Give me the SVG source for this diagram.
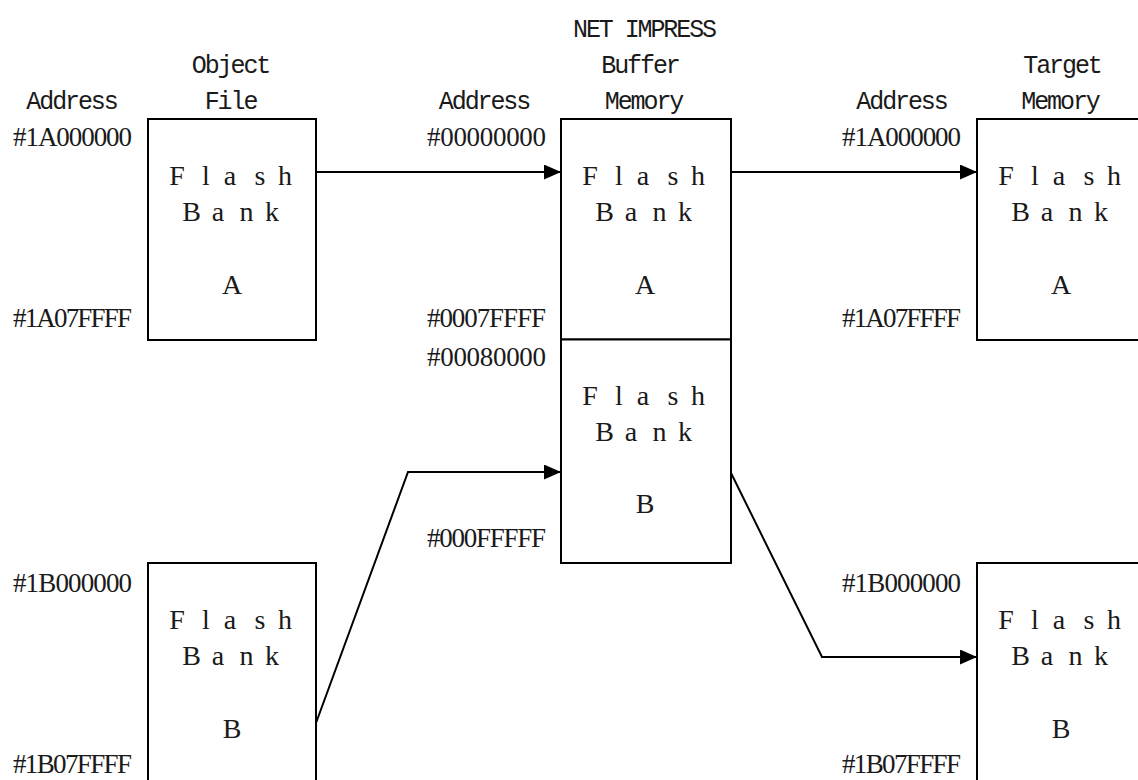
<svg xmlns="http://www.w3.org/2000/svg" width="1138" height="780" viewBox="0 0 1138 780">
<defs>
<style>
.box{fill:#fff;stroke:#000;stroke-width:2}
.hdr{font-family:"Liberation Mono",monospace;font-size:25px;letter-spacing:-2.1px;text-anchor:middle;fill:#1a1a1a}
.hex{font-family:"Liberation Serif",serif;font-size:27px;text-anchor:end;fill:#1a1a1a}
.fl{font-family:"Liberation Serif",serif;font-size:28px;text-anchor:middle;fill:#1a1a1a}
.con{fill:none;stroke:#000;stroke-width:2}
</style>
<marker id="arr" markerWidth="17" markerHeight="15" refX="17" refY="7.5" orient="auto" markerUnits="userSpaceOnUse">
<path d="M0,0 L17,7.5 L0,15 z" fill="#000"/>
</marker>
</defs>
<rect width="1138" height="780" fill="#fff"/>
<g id="headers">
<text class="hdr" x="71.5" y="109">Address</text>
<text class="hdr" x="230.5" y="73">Object</text>
<text class="hdr" x="230.5" y="109">File</text>
<text class="hdr" x="484" y="109">Address</text>
<text class="hdr" x="644" y="37">NET IMPRESS</text>
<text class="hdr" x="640" y="73">Buffer</text>
<text class="hdr" x="643.5" y="109">Memory</text>
<text class="hdr" x="901.5" y="109">Address</text>
<text class="hdr" x="1062" y="73">Target</text>
<text class="hdr" x="1060" y="109">Memory</text>
</g>
<g id="addresses">
<text class="hex" x="132" y="146" textLength="119">#1A000000</text>
<text class="hex" x="132" y="327" textLength="119">#1A07FFFF</text>
<text class="hex" x="132" y="592" textLength="119">#1B000000</text>
<text class="hex" x="132" y="773" textLength="119">#1B07FFFF</text>
<text class="hex" x="546" y="146" textLength="119">#00000000</text>
<text class="hex" x="546" y="327" textLength="119">#0007FFFF</text>
<text class="hex" x="546" y="366" textLength="119">#00080000</text>
<text class="hex" x="546" y="547" textLength="119">#000FFFFF</text>
<text class="hex" x="961" y="146" textLength="119">#1A000000</text>
<text class="hex" x="961" y="327" textLength="119">#1A07FFFF</text>
<text class="hex" x="961" y="592" textLength="119">#1B000000</text>
<text class="hex" x="961" y="773" textLength="119">#1B07FFFF</text>
</g>
<g id="obj-a">
<rect class="box" x="148" y="119" width="168" height="221"/>
<text class="fl" y="185" x="177 206 230 260 285">Flash</text>
<text class="fl" y="221" x="191.5 218 246.5 272">Bank</text>
<text class="fl" y="294" x="232">A</text>
</g>
<g id="obj-b">
<rect class="box" x="148" y="563" width="168" height="240"/>
<text class="fl" y="629" x="177 206 230 260 285">Flash</text>
<text class="fl" y="665" x="191.5 218 246.5 272">Bank</text>
<text class="fl" y="738" x="232">B</text>
</g>
<g id="buf-a">
<rect class="box" x="561" y="119" width="170" height="220.5"/>
<text class="fl" y="185" x="590 619 643 673 698">Flash</text>
<text class="fl" y="221" x="604.5 631 659.5 685">Bank</text>
<text class="fl" y="294" x="645">A</text>
</g>
<g id="buf-b">
<rect class="box" x="561" y="339.5" width="170" height="223.5"/>
<text class="fl" y="405" x="590 619 643 673 698">Flash</text>
<text class="fl" y="441" x="604.5 631 659.5 685">Bank</text>
<text class="fl" y="513" x="645">B</text>
</g>
<g id="tgt-a">
<rect class="box" x="977" y="119" width="180" height="221"/>
<text class="fl" y="185" x="1006 1035 1059 1089 1114">Flash</text>
<text class="fl" y="221" x="1020.5 1047 1075.5 1101">Bank</text>
<text class="fl" y="294" x="1061">A</text>
</g>
<g id="tgt-b">
<rect class="box" x="977" y="563" width="180" height="240"/>
<text class="fl" y="629" x="1006 1035 1059 1089 1114">Flash</text>
<text class="fl" y="665" x="1020.5 1047 1075.5 1101">Bank</text>
<text class="fl" y="738" x="1061">B</text>
</g>
<g id="connectors">
<path class="con" d="M316,172 H561" marker-end="url(#arr)"/>
<path class="con" d="M731,172 H977" marker-end="url(#arr)"/>
<path class="con" d="M316,723 L408,472 H561" marker-end="url(#arr)"/>
<path class="con" d="M731,473 L822,657 H977" marker-end="url(#arr)"/>
</g>
</svg>
